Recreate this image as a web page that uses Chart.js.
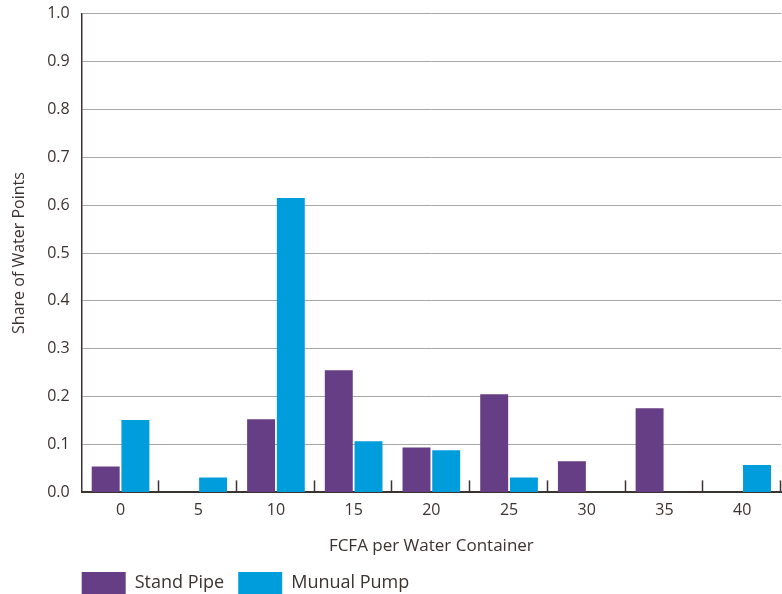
<!DOCTYPE html>
<html lang="en">
  <head>
    <meta charset="UTF-8" />
    <title>Share of Water Points</title>
    <script src="https://cdn.jsdelivr.net/npm/chart.js"></script>
    <style>
      body {
        margin: 0;
        background: #fff;
        overflow: hidden;
      }
      /* canvas is a bit taller and pulled up so the 1.0 line sits near the top edge */
      .wrap {
        width: 782px;
        height: 602px;
        margin-top: -8px;
      }
    </style>
  </head>
  <body>
    <div class="wrap">
      <canvas id="myChart"></canvas>
    </div>
  </body>
  <script>
    const priceList = ["0", "5", "10", "15", "20", "25", "30", "35", "40"];
    const standPipe = [0.054, 0, 0.153, 0.255, 0.094, 0.205, 0.065, 0.176, 0];
    const manualPump = [0.151, 0.031, 0.615, 0.107, 0.088, 0.031, 0, 0, 0.057];
    const yTicks = [0, 0.1, 0.2, 0.3, 0.4, 0.5, 0.6, 0.7, 0.8, 0.9, 1.0];

    const ink = "#3b3330";
    const legendPad = 14;
    Chart.defaults.font.family = "'Open Sans', sans-serif";
    Chart.defaults.color = ink;

    // small tick marks pointing up from the x axis, between categories
    const upTicks = {
      id: "upTicks",
      afterDatasetsDraw(chart) {
        const x = chart.scales.x;
        const c = chart.ctx;
        const step = x.width / priceList.length;
        c.save();
        c.strokeStyle = ink;
        c.lineWidth = 1.5;
        for (let i = 1; i <= priceList.length; i++) {
          const px = Math.round(x.left + step * i) - 0.5;
          c.beginPath();
          c.moveTo(px, x.top);
          c.lineTo(px, x.top - 12);
          c.stroke();
        }
        c.restore();
      },
    };

    // pull the legend over to line up with the y axis
    const legendShift = {
      id: "legendShift",
      afterLayout(chart) {
        chart.legend.left -= legendPad;
        chart.legend.right -= legendPad;
      },
    };

    new Chart(document.getElementById("myChart"), {
      type: "bar",
      data: {
        labels: priceList,
        datasets: [
          {
            label: "Stand Pipe",
            data: standPipe,
            backgroundColor: "#663e85",
            categoryPercentage: 0.765,
            barPercentage: 0.94,
          },
          {
            label: "Munual Pump",
            data: manualPump,
            backgroundColor: "#009ddc",
            categoryPercentage: 0.765,
            barPercentage: 0.94,
          },
        ],
      },
      options: {
        responsive: true,
        maintainAspectRatio: false,
        animation: false,
        layout: {
          autoPadding: false,
          padding: { top: 5, right: 1, left: 6, bottom: -10 },
        },
        scales: {
          x: {
            grid: { display: false },
            border: { color: ink, width: 2 },
            ticks: { font: { size: 16 }, padding: 0 },
            title: {
              display: true,
              text: "FCFA per Water Container",
              font: { size: 17 },
              padding: { top: 16, bottom: 2 },
            },
          },
          y: {
            min: 0,
            max: 1,
            afterBuildTicks(axis) {
              axis.ticks = yTicks.map((v) => ({ value: v }));
            },
            grid: { color: "#a8a8a8", lineWidth: 1, drawTicks: false },
            border: { color: ink, width: 1.5 },
            ticks: {
              font: { size: 16 },
              padding: 12,
              callback: (v) => v.toFixed(1),
            },
            title: {
              display: true,
              text: "Share of Water Points",
              font: { size: 16 },
              padding: { bottom: 6 },
            },
          },
        },
        plugins: {
          legend: {
            position: "bottom",
            align: "start",
            fullSize: false,
            labels: {
              boxWidth: 44,
              boxHeight: 22,
              padding: legendPad,
              font: { size: 18 },
            },
          },
          tooltip: { enabled: false },
        },
      },
      plugins: [upTicks, legendShift],
    });
  </script>
</html>
